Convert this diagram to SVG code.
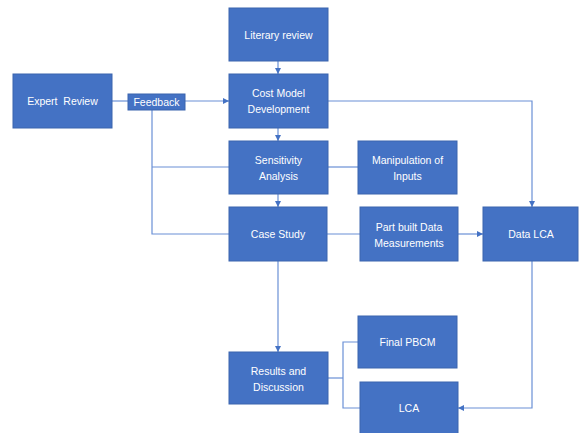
<svg xmlns="http://www.w3.org/2000/svg" width="580" height="433" viewBox="0 0 580 433">
<defs>
<marker id="ah" viewBox="0 0 10 10" refX="10" refY="5" markerWidth="6" markerHeight="6" orient="auto" markerUnits="userSpaceOnUse"><path d="M0,0 L10,5 L0,10 z" fill="#4472C4"/></marker>
<style>
.box{fill:#4472C4;stroke:#3A64AE;stroke-width:1}
.t{font-family:"Liberation Sans",Arial,sans-serif;font-size:10.5px;fill:#ffffff;text-anchor:middle}
.c{fill:none;stroke:#6A90D6;stroke-width:1.2}
.a{marker-end:url(#ah)}
</style>
</defs>
<rect width="580" height="433" fill="#ffffff"/>
<g id="connectors">
<path class="c a" d="M278,61 V74"/>
<path class="c" d="M112,101 H128"/>
<path class="c a" d="M185,101 H229"/>
<path class="c" d="M152,110 V234 H229"/>
<path class="c" d="M152,167 H229"/>
<path class="c a" d="M278,128 V141"/>
<path class="c a" d="M278,194 V207"/>
<path class="c" d="M328,167 H358"/>
<path class="c a" d="M328,101 H532 V207"/>
<path class="c" d="M327,234 H360"/>
<path class="c a" d="M458,234 H483"/>
<path class="c a" d="M278,261 V352"/>
<path class="c a" d="M532,261 V408 H458"/>
<path class="c" d="M328,378 H343"/>
<path class="c" d="M358,342 H343 V408 H360"/>
</g>
<g id="literary-review"><rect class="box" x="229" y="8" width="99" height="53"/><text class="t" x="278.5" y="38.5">Literary review</text></g>
<g id="expert-review"><rect class="box" x="13" y="74" width="99" height="54"/><text class="t" x="62.5" y="104.5" style="white-space:pre">Expert  Review</text></g>
<g id="feedback"><rect class="box" x="128" y="94" width="57" height="16"/><text class="t" x="156.5" y="105.5">Feedback</text></g>
<g id="cost-model"><rect class="box" x="229" y="74" width="99" height="54"/><text class="t" x="278.5" y="97">Cost Model</text><text class="t" x="278.5" y="113">Development</text></g>
<g id="sensitivity"><rect class="box" x="229" y="141" width="99" height="53"/><text class="t" x="278.5" y="164">Sensitivity</text><text class="t" x="278.5" y="180">Analysis</text></g>
<g id="manipulation"><rect class="box" x="358" y="141" width="99" height="53"/><text class="t" x="407.5" y="164">Manipulation of</text><text class="t" x="407.5" y="180">Inputs</text></g>
<g id="case-study"><rect class="box" x="229" y="207" width="98" height="54"/><text class="t" x="278" y="237.5">Case Study</text></g>
<g id="part-built"><rect class="box" x="360" y="207" width="98" height="54"/><text class="t" x="409" y="230.5">Part built Data</text><text class="t" x="409" y="246.5">Measurements</text></g>
<g id="data-lca"><rect class="box" x="483" y="207" width="95" height="54"/><text class="t" x="531" y="237.5">Data LCA</text></g>
<g id="final-pbcm"><rect class="box" x="358" y="316" width="99" height="52"/><text class="t" x="407.5" y="345.5">Final PBCM</text></g>
<g id="results"><rect class="box" x="229" y="352" width="99" height="52"/><text class="t" x="278.5" y="374.5">Results and</text><text class="t" x="278.5" y="390.5">Discussion</text></g>
<g id="lca"><rect class="box" x="360" y="382" width="98" height="52"/><text class="t" x="409" y="411.5">LCA</text></g>
</svg>
